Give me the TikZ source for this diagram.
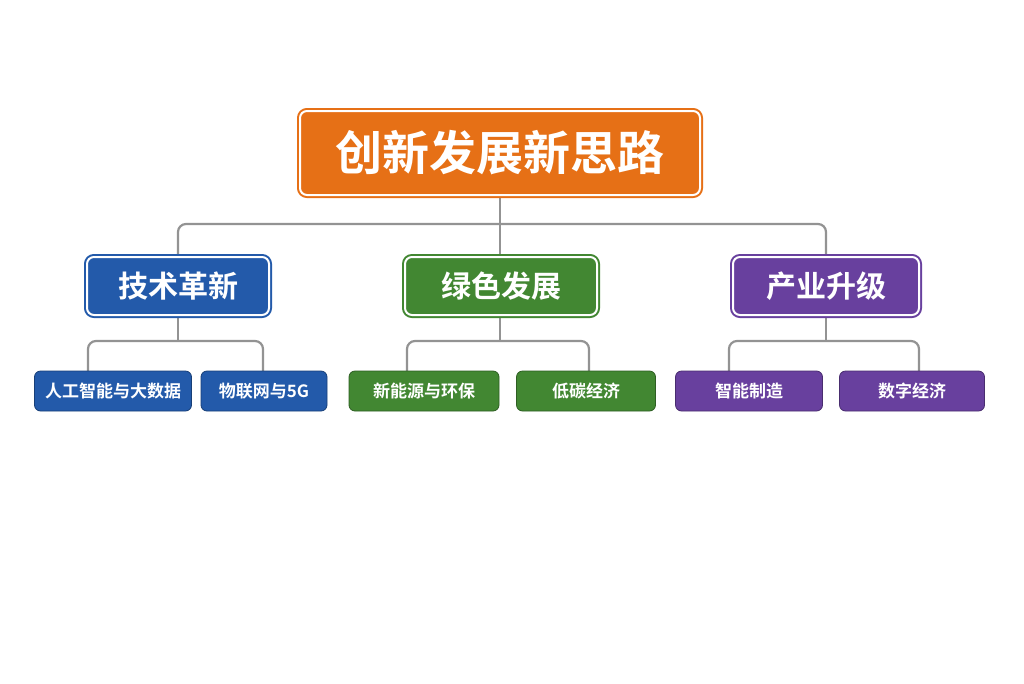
\documentclass[tikz,border=0pt]{standalone}
\usepackage{fontspec}
\setmainfont{Noto Sans CJK SC}[BoldFont={* Bold}]
\begin{document}
\begin{tikzpicture}[x=1pt,y=-1pt,
 box/.style={draw=#1,fill=#1,double=white,double distance=2pt,line width=2pt,rounded corners=7pt,text=white,inner sep=0pt,font=\bfseries},
 conn/.style={draw=gray!85,line width=2.2pt,rounded corners=8pt}]
\definecolor{org}{RGB}{230,112,22}
\definecolor{blu}{RGB}{35,90,170}
\definecolor{grn}{RGB}{66,135,50}
\definecolor{pur}{RGB}{104,64,158}
\useasboundingbox (0,0) rectangle (1024,683);
% connectors
\coordinate (j) at (500,224);
\coordinate (l1) at (178,255); \coordinate (l3) at (826,255);
\draw[conn] (500,196) -- (j);
\draw[conn] (l1) -- (178,224) -- (826,224) -- (l3);
\draw[conn] (j) -- (500,255);
\draw[conn] (178,316) -- (178,341);
\draw[conn] (88,371) -- (88,341) -- (263,341) -- (263,371);
\draw[conn] (500,316) -- (500,341);
\draw[conn] (407,371) -- (407,341) -- (589,341) -- (589,371);
\draw[conn] (826,316) -- (826,341);
\draw[conn] (729,371) -- (729,341) -- (919,341) -- (919,371);
% nodes
\node[box=org,minimum width=400,minimum height=84,font=\bfseries\fontsize{47}{50}\selectfont] (t) at (500,153) {创新发展新思路};
\node[box=blu,minimum width=182,minimum height=58,font=\bfseries\fontsize{30}{34}\selectfont] (a) at (178,286) {技术革新};
\node[box=grn,minimum width=192,minimum height=58,font=\bfseries\fontsize{30}{34}\selectfont] (b) at (501,286) {绿色发展};
\node[box=pur,minimum width=186,minimum height=58,font=\bfseries\fontsize{30}{34}\selectfont] (c) at (826,286) {产业升级};
\tikzset{leaf/.style={fill=#1,draw=#1!70!black,line width=0.8pt,rounded corners=6pt,text=white,minimum height=40,inner sep=0pt,font=\bfseries\fontsize{17}{20}\selectfont}}
\node[leaf=blu,minimum width=157] (a1) at (113,391) {人工智能与大数据};
\node[leaf=blu,minimum width=126] (a2) at (264,391) {物联网与5G};
\node[leaf=grn,minimum width=150] (b1) at (424,391) {新能源与环保};
\node[leaf=grn,minimum width=139] (b2) at (586,391) {低碳经济};
\node[leaf=pur,minimum width=147] (c1) at (749,391) {智能制造};
\node[leaf=pur,minimum width=145] (c2) at (912,391) {数字经济};
\end{tikzpicture}
\end{document}
